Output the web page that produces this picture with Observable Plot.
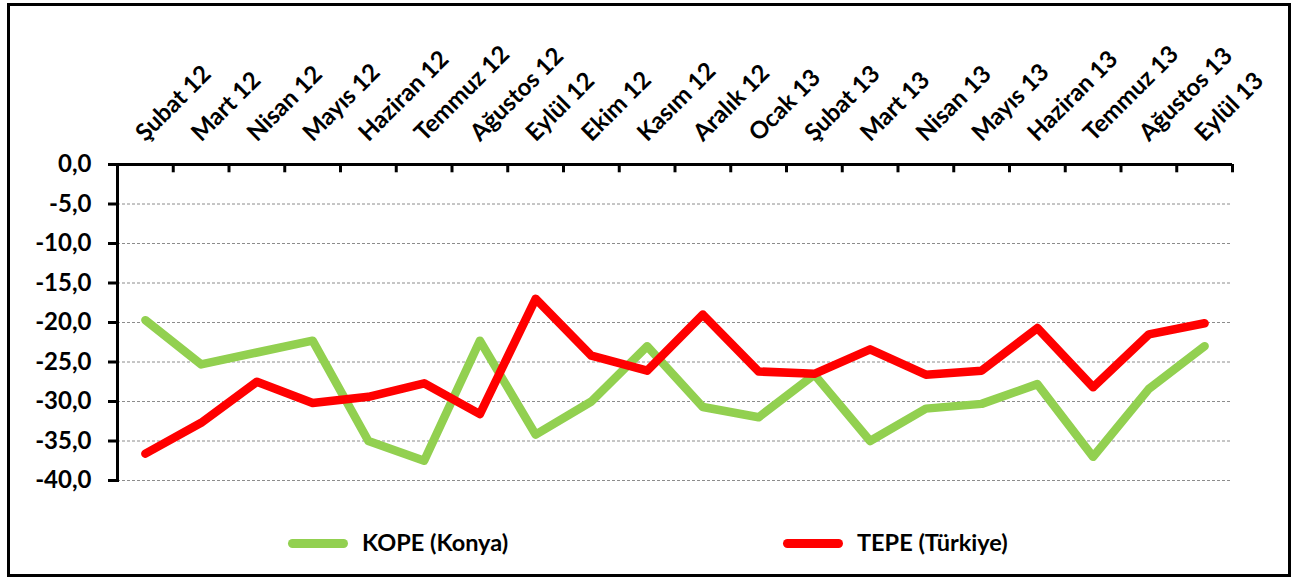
<!DOCTYPE html>
<html>
<head>
<meta charset="utf-8">
<script src="https://cdn.jsdelivr.net/npm/d3@7"></script>
<script src="https://cdn.jsdelivr.net/npm/@observablehq/plot@0.6"></script>
<style>
  html, body { margin: 0; padding: 0; background: #fff; }
  #wrap { position: relative; width: 1295px; height: 579px; overflow: hidden; font-family: Lato, "Open Sans", sans-serif; }
  #border { position: absolute; left: 7px; top: 3px; width: 1284px; height: 574px; box-sizing: border-box; border: 3px solid #000; z-index: 3; pointer-events: none; }
  #chart { position: absolute; left: 0; top: 0; }
  .sw { position: absolute; height: 9px; width: 60px; border-radius: 4.5px; top: 538.5px; }
  .lt { position: absolute; top: 531px; font: bold 23.5px/23.5px Lato, sans-serif; color: #000; white-space: nowrap; }
</style>
</head>
<body>
<div id="wrap">
  <div id="chart"></div>
  <div id="border"></div>
  <div class="sw" style="left:288px;background:#92D050"></div>
  <div class="lt" style="left:362px">KOPE (Konya)</div>
  <div class="sw" style="left:783px;background:#FF0000"></div>
  <div class="lt" style="left:857px">TEPE (Türkiye)</div>
</div>
<script>
const months = ["Şubat 12","Mart 12","Nisan 12","Mayıs 12","Haziran 12","Temmuz 12","Ağustos 12","Eylül 12","Ekim 12","Kasım 12","Aralık 12","Ocak 13","Şubat 13","Mart 13","Nisan 13","Mayıs 13","Haziran 13","Temmuz 13","Ağustos 13","Eylül 13"];
const kope = [-19.7,-25.3,-23.8,-22.3,-35.0,-37.5,-22.3,-34.2,-30.0,-23.0,-30.7,-32.0,-26.6,-35.0,-30.9,-30.3,-27.8,-37.0,-28.4,-23.0];
const tepe = [-36.6,-32.7,-27.5,-30.2,-29.4,-27.7,-31.6,-17.0,-24.2,-26.1,-19.0,-26.2,-26.5,-23.4,-26.6,-26.1,-20.7,-28.2,-21.5,-20.1];
const yTicks = [0,-5,-10,-15,-20,-25,-30,-35,-40];
const gridValues = [-5,-10,-15,-20,-25,-30,-35,-40];

const kopeData = months.map((m,i) => ({month: m, value: kope[i]}));
const tepeData = months.map((m,i) => ({month: m, value: tepe[i]}));

const W = 1295, H = 500, ML = 117, MR = 63, MT = 164, MB = 20;
const bw = (W - ML - MR) / months.length;
const fmt = d => d.toFixed(1).replace(".", ",").replace("-0,0", "0,0");

const plot = Plot.plot({
  width: W, height: H,
  marginLeft: ML, marginRight: MR, marginTop: MT, marginBottom: MB,
  style: {fontFamily: "Lato, sans-serif", fontSize: "23px", fontWeight: "bold", color: "#000", background: "transparent"},
  x: {type: "band", domain: months, padding: 0, round: false, axis: null},
  y: {domain: [-40, 0], axis: null},
  marks: [
    Plot.ruleY(gridValues, {stroke: "#8c8c8c", strokeWidth: 1, strokeDasharray: "3,2"}),
    Plot.line(kopeData, {x: "month", y: "value", stroke: "#92D050", strokeWidth: 8.5, strokeLinejoin: "round", strokeLinecap: "round"}),
    Plot.line(tepeData, {x: "month", y: "value", stroke: "#FF0000", strokeWidth: 8.5, strokeLinejoin: "round", strokeLinecap: "round"}),
    Plot.ruleY([0], {stroke: "#000", strokeWidth: 3}),
    Plot.frame({anchor: "left", stroke: "#000", strokeWidth: 3}),
    Plot.ruleX(months, {x: d => d, y1: 0, y2: -1.05, dx: bw / 2, stroke: "#000", strokeWidth: 3}),
    Plot.axisY(yTicks, {label: null, tickSize: 9, tickPadding: 17, strokeWidth: 3, tickFormat: fmt, fontWeight: "bold", fontSize: 24, fill: "#000"}),
    Plot.text(months, {x: d => d, frameAnchor: "top", dy: -22, rotate: -45, textAnchor: "start", lineAnchor: "bottom", fontWeight: "bold", fontSize: 24, fill: "#000"})
  ]
});
document.getElementById("chart").appendChild(plot);
</script>
</body>
</html>
